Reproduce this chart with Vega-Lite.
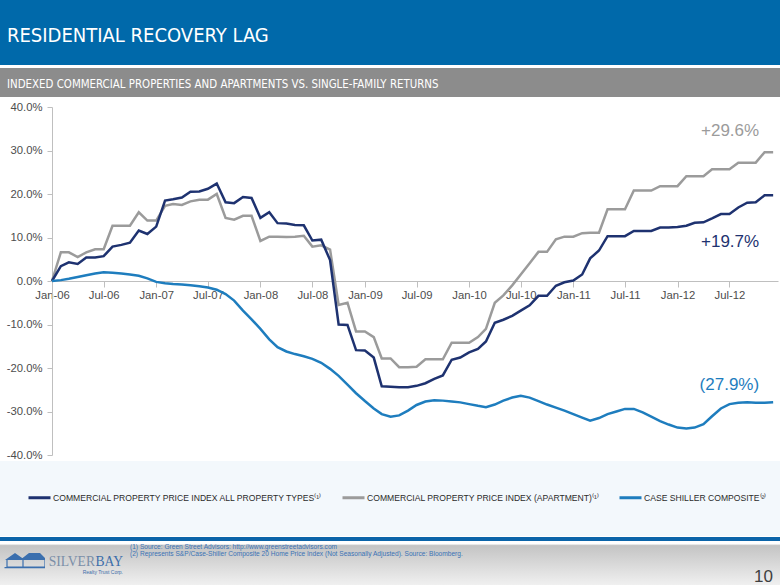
{
  "$schema": "https://vega.github.io/schema/vega-lite/v6.json",
  "padding": 0,
  "background": "white",
  "config": {"view": {"stroke": null}, "font": "Liberation Sans"},
  "datasets": {
    "idx": [
      {"date":"2006-01-01","all":0,"apt":0,"cs":0},
      {"date":"2006-02-01","all":3.4,"apt":6.6,"cs":0.2},
      {"date":"2006-03-01","all":4.3,"apt":6.6,"cs":0.5},
      {"date":"2006-04-01","all":3.9,"apt":5.5,"cs":0.9},
      {"date":"2006-05-01","all":5.4,"apt":6.6,"cs":1.3},
      {"date":"2006-06-01","all":5.4,"apt":7.3,"cs":1.7},
      {"date":"2006-07-01","all":5.7,"apt":7.3,"cs":2.0},
      {"date":"2006-08-01","all":7.9,"apt":12.7,"cs":1.9},
      {"date":"2006-09-01","all":8.3,"apt":12.7,"cs":1.7},
      {"date":"2006-10-01","all":8.8,"apt":12.7,"cs":1.5},
      {"date":"2006-11-01","all":11.6,"apt":15.8,"cs":1.2},
      {"date":"2006-12-01","all":10.8,"apt":13.9,"cs":0.6},
      {"date":"2007-01-01","all":12.5,"apt":13.9,"cs":-0.2},
      {"date":"2007-02-01","all":18.5,"apt":17.3,"cs":-0.5},
      {"date":"2007-03-01","all":18.8,"apt":17.7,"cs":-0.7},
      {"date":"2007-04-01","all":19.2,"apt":17.5,"cs":-0.8},
      {"date":"2007-05-01","all":20.5,"apt":18.3,"cs":-1.0},
      {"date":"2007-06-01","all":20.6,"apt":18.7,"cs":-1.2},
      {"date":"2007-07-01","all":21.2,"apt":18.7,"cs":-1.5},
      {"date":"2007-08-01","all":22.4,"apt":20.0,"cs":-2.0},
      {"date":"2007-09-01","all":18.1,"apt":14.5,"cs":-3.0},
      {"date":"2007-10-01","all":17.9,"apt":14.1,"cs":-4.5},
      {"date":"2007-11-01","all":19.3,"apt":15.0,"cs":-6.8},
      {"date":"2007-12-01","all":19.1,"apt":15.0,"cs":-8.8},
      {"date":"2008-01-01","all":14.5,"apt":9.2,"cs":-11.0},
      {"date":"2008-02-01","all":15.8,"apt":10.2,"cs":-13.4},
      {"date":"2008-03-01","all":13.3,"apt":10.2,"cs":-15.2},
      {"date":"2008-04-01","all":13.2,"apt":10.1,"cs":-16.2},
      {"date":"2008-05-01","all":12.9,"apt":10.2,"cs":-16.8},
      {"date":"2008-06-01","all":12.8,"apt":10.4,"cs":-17.3},
      {"date":"2008-07-01","all":9.3,"apt":7.9,"cs":-17.9},
      {"date":"2008-08-01","all":9.5,"apt":8.2,"cs":-18.8},
      {"date":"2008-09-01","all":4.8,"apt":7.2,"cs":-20.2},
      {"date":"2008-10-01","all":-10.0,"apt":-5.5,"cs":-21.8},
      {"date":"2008-11-01","all":-10.1,"apt":-5.0,"cs":-23.8},
      {"date":"2008-12-01","all":-15.9,"apt":-11.6,"cs":-25.8},
      {"date":"2009-01-01","all":-16.0,"apt":-11.6,"cs":-27.6},
      {"date":"2009-02-01","all":-17.6,"apt":-12.9,"cs":-29.3},
      {"date":"2009-03-01","all":-24.2,"apt":-17.8,"cs":-30.6},
      {"date":"2009-04-01","all":-24.3,"apt":-17.8,"cs":-31.2},
      {"date":"2009-05-01","all":-24.4,"apt":-19.8,"cs":-30.9},
      {"date":"2009-06-01","all":-24.4,"apt":-19.8,"cs":-29.8},
      {"date":"2009-07-01","all":-24.1,"apt":-19.7,"cs":-28.5},
      {"date":"2009-08-01","all":-23.5,"apt":-18.0,"cs":-27.7},
      {"date":"2009-09-01","all":-22.5,"apt":-18.0,"cs":-27.4},
      {"date":"2009-10-01","all":-21.7,"apt":-18.0,"cs":-27.5},
      {"date":"2009-11-01","all":-18.1,"apt":-14.2,"cs":-27.7},
      {"date":"2009-12-01","all":-17.6,"apt":-14.2,"cs":-27.9},
      {"date":"2010-01-01","all":-16.4,"apt":-14.2,"cs":-28.3},
      {"date":"2010-02-01","all":-15.6,"apt":-12.9,"cs":-28.7},
      {"date":"2010-03-01","all":-13.9,"apt":-11.0,"cs":-29.0},
      {"date":"2010-04-01","all":-9.6,"apt":-5.0,"cs":-28.4},
      {"date":"2010-05-01","all":-8.9,"apt":-3.3,"cs":-27.5},
      {"date":"2010-06-01","all":-8.0,"apt":-1.0,"cs":-26.8},
      {"date":"2010-07-01","all":-6.8,"apt":1.5,"cs":-26.4},
      {"date":"2010-08-01","all":-5.6,"apt":4.1,"cs":-26.8},
      {"date":"2010-09-01","all":-3.4,"apt":6.7,"cs":-27.6},
      {"date":"2010-10-01","all":-3.4,"apt":6.7,"cs":-28.4},
      {"date":"2010-11-01","all":-1.1,"apt":9.6,"cs":-29.1},
      {"date":"2010-12-01","all":-0.3,"apt":10.2,"cs":-29.8},
      {"date":"2011-01-01","all":0.1,"apt":10.2,"cs":-30.6},
      {"date":"2011-02-01","all":1.5,"apt":11.0,"cs":-31.4},
      {"date":"2011-03-01","all":5.2,"apt":11.1,"cs":-32.1},
      {"date":"2011-04-01","all":7.0,"apt":11.1,"cs":-31.5},
      {"date":"2011-05-01","all":10.3,"apt":16.5,"cs":-30.6},
      {"date":"2011-06-01","all":10.3,"apt":16.5,"cs":-30.0},
      {"date":"2011-07-01","all":10.3,"apt":16.5,"cs":-29.4},
      {"date":"2011-08-01","all":11.5,"apt":20.8,"cs":-29.4},
      {"date":"2011-09-01","all":11.5,"apt":20.8,"cs":-30.2},
      {"date":"2011-10-01","all":11.5,"apt":20.8,"cs":-31.2},
      {"date":"2011-11-01","all":12.3,"apt":21.8,"cs":-32.2},
      {"date":"2011-12-01","all":12.3,"apt":21.8,"cs":-33.0},
      {"date":"2012-01-01","all":12.4,"apt":21.8,"cs":-33.7},
      {"date":"2012-02-01","all":12.7,"apt":24.1,"cs":-33.9},
      {"date":"2012-03-01","all":13.4,"apt":24.1,"cs":-33.7},
      {"date":"2012-04-01","all":13.5,"apt":24.1,"cs":-32.9},
      {"date":"2012-05-01","all":14.4,"apt":25.7,"cs":-31.1},
      {"date":"2012-06-01","all":15.4,"apt":25.7,"cs":-29.3},
      {"date":"2012-07-01","all":15.4,"apt":25.7,"cs":-28.3},
      {"date":"2012-08-01","all":16.9,"apt":27.2,"cs":-28.0},
      {"date":"2012-09-01","all":18.0,"apt":27.2,"cs":-27.9},
      {"date":"2012-10-01","all":18.1,"apt":27.2,"cs":-28.0},
      {"date":"2012-11-01","all":19.7,"apt":29.6,"cs":-28.0},
      {"date":"2012-12-01","all":19.7,"apt":29.6,"cs":-27.9}
    ],
    "ann": [
      {"key":"apt","date":"2012-12-01","value":29.6,"label":"+29.6%"},
      {"key":"all","date":"2012-12-01","value":19.7,"label":"+19.7%"},
      {"key":"cs","date":"2012-12-01","value":-27.9,"label":"(27.9%)"}
    ],
    "series": [
      {"name":"COMMERCIAL PROPERTY PRICE INDEX ALL PROPERTY TYPES⁽¹⁾"},
      {"name":"COMMERCIAL PROPERTY PRICE INDEX (APARTMENT)⁽¹⁾"},
      {"name":"CASE SHILLER COMPOSITE⁽²⁾"}
    ],
    "one": [{"k": 1}]
  },
  "spacing": 4,
  "vconcat": [
    {
      "spacing": 3,
      "vconcat": [
        {
          "width": 780, "height": 65,
          "view": {"fill": "#0069AA", "stroke": null},
          "data": {"name": "one"},
          "mark": {"type": "point", "opacity": 0},
          "encoding": {},
          "title": {"text": "RESIDENTIAL RECOVERY LAG", "orient": "bottom", "anchor": "start", "frame": "group", "offset": -23, "baseline": "alphabetic", "dx": 7, "color": "#FFFFFF", "fontSize": 20, "fontWeight": "normal", "font": "Liberation Sans Narrow, Arial Narrow, DejaVu Sans Condensed, Liberation Sans"}
        },
        {
          "width": 780, "height": 29,
          "view": {"fill": "#8C8C8C", "stroke": null},
          "data": {"name": "one"},
          "mark": {"type": "point", "opacity": 0},
          "encoding": {},
          "title": {"text": "INDEXED COMMERCIAL PROPERTIES AND APARTMENTS VS. SINGLE-FAMILY RETURNS", "orient": "bottom", "anchor": "start", "frame": "group", "offset": -9.5, "baseline": "alphabetic", "dx": 7, "color": "#FFFFFF", "fontSize": 11.4, "fontWeight": "normal", "font": "Liberation Sans Narrow, Arial Narrow, DejaVu Sans Condensed, Liberation Sans"}
        }
      ]
    },
    {
      "spacing": 0,
      "resolve": {"scale": {"x": "independent", "y": "independent", "color": "independent"}, "legend": {"color": "independent"}, "axis": {"x": "independent", "y": "independent"}},
      "vconcat": [
        {
          "width": 780, "height": 348,
          "encoding": {
            "x": {"field": "date", "type": "temporal",
              "scale": {"type": "utc", "range": [52, 778], "domain": [{"year": 2006, "month": 1, "date": 1, "utc": true}, {"year": 2012, "month": 12, "date": 18, "utc": true}]},
              "axis": {"title": null, "format": "%b-%y", "tickCount": {"interval": "month", "step": 6}, "offset": -174, "grid": false, "domainColor": "#BFBFBF", "tickColor": "#BFBFBF", "tickSize": 6, "labelFontSize": 11.3, "labelColor": "#4D4D4D", "labelPadding": 2, "labelFlush": false, "labelOverlap": false}},
            "y": {"field": "value", "type": "quantitative",
              "scale": {"domain": [-40, 40], "nice": false},
              "axis": {"title": null, "offset": -52, "values": [-40,-30,-20,-10,0,10,20,30,40], "labelExpr": "datum.value + '.0%'", "grid": false, "domainColor": "#BFBFBF", "tickColor": "#BFBFBF", "tickSize": 5, "labelFontSize": 11.3, "labelColor": "#4D4D4D", "labelPadding": 5}},
            "color": {"field": "key", "type": "nominal",
              "scale": {"domain": ["all", "apt", "cs"], "range": ["#1E3270", "#9B9B9B", "#1E7DBE"]},
              "legend": null}
          },
          "layer": [
            {
              "data": {"name": "idx"},
              "transform": [{"fold": ["apt", "all", "cs"], "as": ["key", "value"]}],
              "mark": {"type": "line", "strokeWidth": 2.5}
            },
            {
              "data": {"name": "ann"},
              "transform": [{"filter": "datum.key == 'apt'"}],
              "mark": {"type": "text", "align": "right", "baseline": "middle", "dx": -14, "dy": -21, "fontSize": 17},
              "encoding": {"text": {"field": "label"}}
            },
            {
              "data": {"name": "ann"},
              "transform": [{"filter": "datum.key == 'all'"}],
              "mark": {"type": "text", "align": "right", "baseline": "middle", "dx": -14, "dy": 47, "fontSize": 17},
              "encoding": {"text": {"field": "label"}}
            },
            {
              "data": {"name": "ann"},
              "transform": [{"filter": "datum.key == 'cs'"}],
              "mark": {"type": "text", "align": "right", "baseline": "middle", "dx": -14, "dy": -17, "fontSize": 17},
              "encoding": {"text": {"field": "label"}}
            }
          ]
        },
        {
          "width": 780, "height": 75,
          "view": {"fill": "#F3F8FC", "stroke": null},
          "data": {"name": "series"},
          "mark": {"type": "point", "opacity": 0},
          "encoding": {
            "color": {"field": "name", "type": "nominal",
              "scale": {"domain": ["COMMERCIAL PROPERTY PRICE INDEX ALL PROPERTY TYPES⁽¹⁾", "COMMERCIAL PROPERTY PRICE INDEX (APARTMENT)⁽¹⁾", "CASE SHILLER COMPOSITE⁽²⁾"], "range": ["#1E3270", "#9B9B9B", "#1E7DBE"]},
              "legend": {"orient": "none", "legendX": 27, "legendY": 24, "direction": "horizontal", "title": null, "symbolType": "stroke", "symbolStrokeWidth": 3, "symbolSize": 484, "symbolOpacity": 1, "labelFontSize": 8.6, "labelColor": "#2B2B2B", "columnPadding": 13, "labelOffset": 1, "labelLimit": 0, "padding": 0}}
          }
        },
        {
          "width": 780, "height": 4,
          "view": {"fill": "#0B64A9", "stroke": null},
          "data": {"name": "one"},
          "mark": {"type": "point", "opacity": 0},
          "encoding": {}
        },
        {
          "spacing": 0,
          "bounds": "flush",
          "hconcat": [
            {
              "width": 45, "height": 45,
              "view": {"fill": {"gradient": "linear", "x1": 0, "y1": 0, "x2": 0, "y2": 1, "stops": [{"offset": 0, "color": "#FFFFFF"}, {"offset": 0.04, "color": "#FFFFFF"}, {"offset": 0.08, "color": "#C4C4C4"}, {"offset": 1, "color": "#F2F2F2"}]}, "stroke": null},
              "data": {"name": "one"},
              "layer": [
                {"mark": {"type": "point", "shape": "M-0.875,-0.225L-0.375,-0.575L0.125,-0.225Z M-0.125,-0.225L0.325,-0.575L0.875,-0.575L1.225,-0.225Z", "size": 1600, "filled": true, "color": "#3B6FAE", "opacity": 1}, "encoding": {}},
                {"mark": {"type": "point", "shape": "M-0.775,-0.225L-0.775,0.125L0.025,0.125L0.025,-0.225M0.025,0.125L1.125,0.125L1.125,-0.225M-0.9,0.16L1.2,0.16", "size": 1600, "filled": false, "color": "#3B6FAE", "strokeWidth": 1.2, "opacity": 1}, "encoding": {}}
              ]
            },
            {
              "width": 50, "height": 45,
              "view": {"fill": {"gradient": "linear", "x1": 0, "y1": 0, "x2": 0, "y2": 1, "stops": [{"offset": 0, "color": "#FFFFFF"}, {"offset": 0.04, "color": "#FFFFFF"}, {"offset": 0.08, "color": "#C4C4C4"}, {"offset": 1, "color": "#F2F2F2"}]}, "stroke": null},
              "data": {"name": "one"},
              "mark": {"type": "point", "opacity": 0},
              "encoding": {},
              "title": {"text": "SILVER", "orient": "bottom", "anchor": "end", "frame": "group", "offset": -21.5, "baseline": "alphabetic", "color": "#7B8FA8", "fontSize": 13.6, "fontWeight": "normal", "font": "Liberation Serif"}
            },
            {
              "width": 32, "height": 45,
              "view": {"fill": {"gradient": "linear", "x1": 0, "y1": 0, "x2": 0, "y2": 1, "stops": [{"offset": 0, "color": "#FFFFFF"}, {"offset": 0.04, "color": "#FFFFFF"}, {"offset": 0.08, "color": "#C4C4C4"}, {"offset": 1, "color": "#F2F2F2"}]}, "stroke": null},
              "data": {"name": "one"},
              "mark": {"type": "point", "opacity": 0},
              "encoding": {},
              "title": {"text": "BAY", "subtitle": "Realty Trust Corp.", "orient": "bottom", "anchor": "end", "frame": "group", "offset": -21.5, "baseline": "alphabetic", "dx": -4, "color": "#3D6EAA", "fontSize": 13.6, "fontWeight": "normal", "font": "Liberation Serif", "subtitleFontSize": 5, "subtitleColor": "#3D6EAA", "subtitlePadding": -5, "subtitleFont": "Liberation Sans"}
            },
            {
              "width": 600, "height": 45,
              "view": {"fill": {"gradient": "linear", "x1": 0, "y1": 0, "x2": 0, "y2": 1, "stops": [{"offset": 0, "color": "#FFFFFF"}, {"offset": 0.04, "color": "#FFFFFF"}, {"offset": 0.08, "color": "#C4C4C4"}, {"offset": 1, "color": "#F2F2F2"}]}, "stroke": null},
              "data": {"name": "one"},
              "mark": {"type": "point", "opacity": 0},
              "encoding": {},
              "title": {"text": ["(1) Source:  Green Street Advisors: http://www.greenstreetadvisors.com", "(2) Represents S&P/Case-Shiller Composite 20 Home Price Index (Not Seasonally Adjusted).  Source:  Bloomberg."], "orient": "bottom", "anchor": "start", "frame": "group", "offset": -38, "baseline": "alphabetic", "dx": 3, "color": "#3A72B5", "fontSize": 6.6, "lineHeight": 7, "fontWeight": "normal"}
            },
            {
              "width": 53, "height": 45,
              "view": {"fill": {"gradient": "linear", "x1": 0, "y1": 0, "x2": 0, "y2": 1, "stops": [{"offset": 0, "color": "#FFFFFF"}, {"offset": 0.04, "color": "#FFFFFF"}, {"offset": 0.08, "color": "#C4C4C4"}, {"offset": 1, "color": "#F2F2F2"}]}, "stroke": null},
              "data": {"name": "one"},
              "mark": {"type": "point", "opacity": 0},
              "encoding": {},
              "title": {"text": "10", "orient": "bottom", "anchor": "end", "frame": "group", "offset": -5, "baseline": "alphabetic", "dx": -7, "color": "#3F3F3F", "fontSize": 17, "fontWeight": "normal"}
            }
          ]
        }
      ]
    }
  ]
}
